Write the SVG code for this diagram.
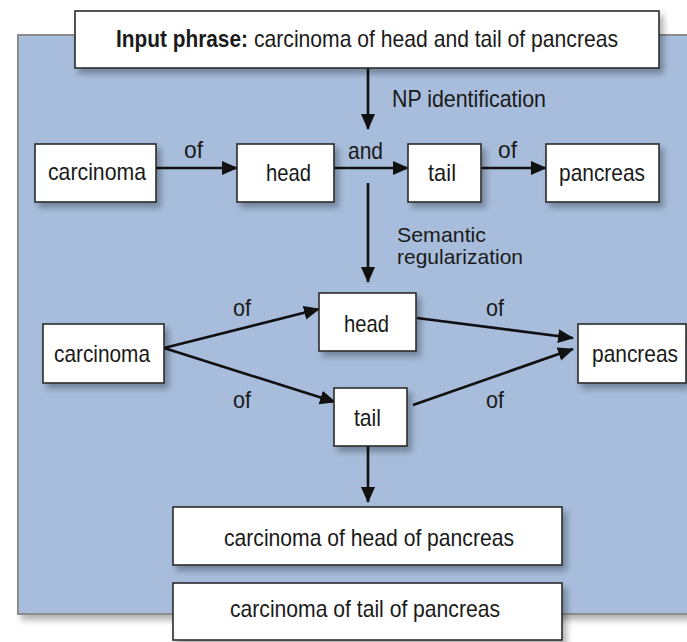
<svg xmlns="http://www.w3.org/2000/svg" width="687" height="642" viewBox="0 0 687 642">
<defs>
<filter id="sh" x="-10%" y="-10%" width="130%" height="140%">
<feDropShadow dx="4" dy="5" stdDeviation="3" flood-color="#000" flood-opacity="0.3"/>
</filter>
<marker id="ah" markerUnits="userSpaceOnUse" markerWidth="17" markerHeight="15" refX="15" refY="7" orient="auto">
<path d="M0,0 L16,7 L0,14 z" fill="#111"/>
</marker>
<style>
.box{fill:#fff;stroke:#2b2b2b;stroke-width:1.6;filter:url(#sh)}
.t{font-family:"Liberation Sans",Arial,sans-serif;font-size:24px;fill:#1a1a1a}
.s{font-size:21px}
.b{font-weight:bold}
.c{fill:none;stroke:#111;stroke-width:2.6;marker-end:url(#ah)}
</style>
</defs>
<rect x="0" y="0" width="687" height="642" fill="#fff"/>
<rect x="18" y="35" width="680" height="579" fill="#a7bddb" stroke="#8c8c8c" stroke-width="2" filter="url(#sh)"/>

<g id="connectors">
<line class="c" x1="368" y1="68" x2="368" y2="129"/>
<line class="c" x1="156" y1="168" x2="237" y2="168"/>
<line class="c" x1="334" y1="168" x2="408" y2="168"/>
<line class="c" x1="481" y1="168" x2="546" y2="168"/>
<line class="c" x1="368" y1="183" x2="368" y2="282"/>
<line class="c" x1="164" y1="348" x2="319" y2="309"/>
<line class="c" x1="164" y1="348" x2="335" y2="402"/>
<line class="c" x1="417" y1="318" x2="573" y2="338"/>
<line class="c" x1="413" y1="405" x2="573" y2="349"/>
<line class="c" x1="368" y1="446" x2="368" y2="502"/>
</g>

<g id="labels">
<text class="t" x="392" y="107" textLength="154" lengthAdjust="spacingAndGlyphs">NP identification</text>
<text class="t" x="184" y="158" textLength="19" lengthAdjust="spacingAndGlyphs">of</text>
<text class="t" x="348" y="159" textLength="35" lengthAdjust="spacingAndGlyphs">and</text>
<text class="t" x="498" y="158" textLength="19" lengthAdjust="spacingAndGlyphs">of</text>
<text class="t s" x="397" y="242" textLength="89" lengthAdjust="spacingAndGlyphs">Semantic</text>
<text class="t s" x="397" y="264" textLength="126" lengthAdjust="spacingAndGlyphs">regularization</text>
<text class="t" x="233" y="316" textLength="18" lengthAdjust="spacingAndGlyphs">of</text>
<text class="t" x="233" y="408" textLength="18" lengthAdjust="spacingAndGlyphs">of</text>
<text class="t" x="486" y="316" textLength="18" lengthAdjust="spacingAndGlyphs">of</text>
<text class="t" x="486" y="408" textLength="18" lengthAdjust="spacingAndGlyphs">of</text>
</g>

<g id="input">
<rect class="box" x="75" y="11" width="584" height="57"/>
<text class="t b" x="116" y="47" textLength="132" lengthAdjust="spacingAndGlyphs">Input phrase:</text>
<text class="t" x="254" y="47" textLength="364" lengthAdjust="spacingAndGlyphs">carcinoma of head and tail of pancreas</text>
</g>

<g id="carcinoma1">
<rect class="box" x="35" y="144" width="121" height="58"/>
<text class="t" x="48" y="180" textLength="98" lengthAdjust="spacingAndGlyphs">carcinoma</text>
</g>
<g id="head1">
<rect class="box" x="237" y="144" width="97" height="58"/>
<text class="t" x="266" y="181" textLength="45" lengthAdjust="spacingAndGlyphs">head</text>
</g>
<g id="tail1">
<rect class="box" x="408" y="144" width="73" height="58"/>
<text class="t" x="428" y="181" textLength="28" lengthAdjust="spacingAndGlyphs">tail</text>
</g>
<g id="pancreas1">
<rect class="box" x="546" y="144" width="113" height="58"/>
<text class="t" x="559" y="181" textLength="86" lengthAdjust="spacingAndGlyphs">pancreas</text>
</g>

<g id="carcinoma2">
<rect class="box" x="43" y="324" width="121" height="59"/>
<text class="t" x="54" y="362" textLength="96" lengthAdjust="spacingAndGlyphs">carcinoma</text>
</g>
<g id="head2">
<rect class="box" x="319" y="293" width="97" height="58"/>
<text class="t" x="344" y="332" textLength="45" lengthAdjust="spacingAndGlyphs">head</text>
</g>
<g id="tail2">
<rect class="box" x="334" y="388" width="73" height="58"/>
<text class="t" x="354" y="426" textLength="27" lengthAdjust="spacingAndGlyphs">tail</text>
</g>
<g id="pancreas2">
<rect class="box" x="578" y="324" width="108" height="59"/>
<text class="t" x="592" y="362" textLength="86" lengthAdjust="spacingAndGlyphs">pancreas</text>
</g>

<g id="result1">
<rect class="box" x="173" y="507" width="389" height="58"/>
<text class="t" x="224" y="546" textLength="290" lengthAdjust="spacingAndGlyphs">carcinoma of head of pancreas</text>
</g>
<g id="result2">
<rect class="box" x="173" y="583" width="389" height="57"/>
<text class="t" x="230" y="617" textLength="270" lengthAdjust="spacingAndGlyphs">carcinoma of tail of pancreas</text>
</g>
</svg>
